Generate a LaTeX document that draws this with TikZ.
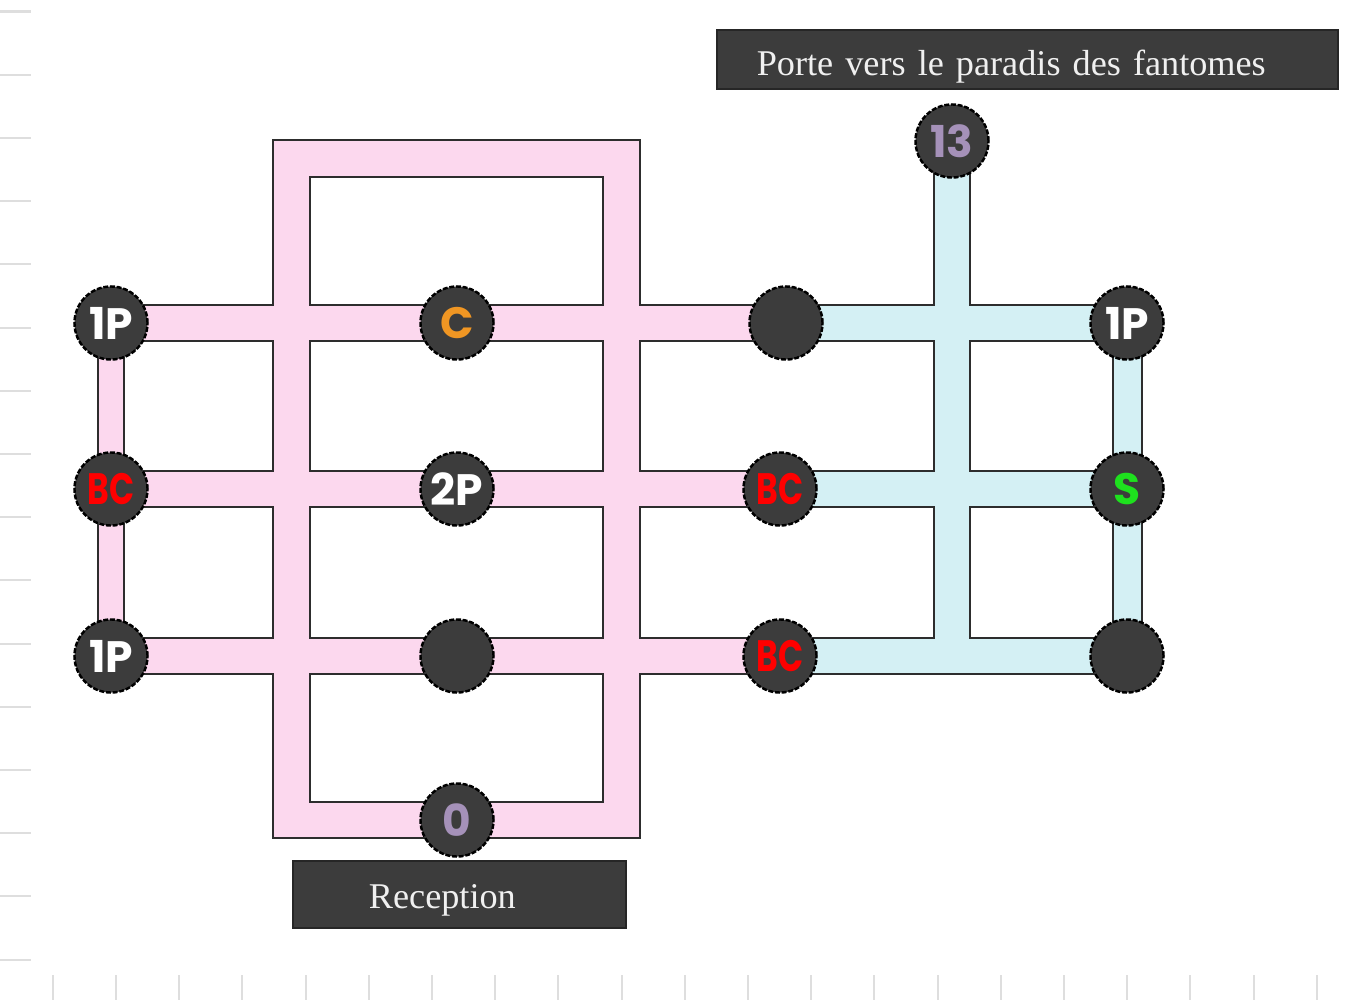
\documentclass[tikz,border=0pt]{standalone}
\usepackage{fontspec}
\setmainfont{Liberation Serif}
\newfontfamily\marqueur{Poppins}
\usetikzlibrary{backgrounds}
\definecolor{fond}{RGB}{60,60,60}
\definecolor{rosec}{RGB}{252,216,238}
\definecolor{bleuc}{RGB}{212,240,244}
\definecolor{trait}{RGB}{45,45,45}
\definecolor{orangec}{RGB}{240,150,35}
\definecolor{vertc}{RGB}{30,225,30}
\definecolor{mauve}{RGB}{165,145,185}
\definecolor{graduation}{RGB}{222,222,222}
\begin{document}
\begin{tikzpicture}[x=0.01cm,y=-0.01cm,line join=miter]
	\tikzset{salle/.style={circle,fill=fond,draw=black,line width=0.7pt,dash pattern=on 1.4pt off 0.5pt,minimum size=0.73cm,inner sep=0pt,font=\marqueur\bfseries\fontsize{12.5}{13}\selectfont},
	bord/.style={draw=trait,line width=0.38cm},
	rose/.style={draw=rosec,line width=0.34cm},
	bleu/.style={draw=bleuc,line width=0.33cm},
	panneau/.style={fill=fond,draw=black!85,line width=0.6pt,text=white!94!black,font=\fontsize{10.3}{12}\selectfont,align=left,inner ysep=0pt}}
	\def\bc{\scalebox{0.75}[1]{BC}}
	\useasboundingbox(0,0)rectangle(1366,1000);
	\foreach \k in {0,...,15} \draw[graduation,line width=0.02cm](0,{11.5+63.2*\k})--++(31,0);
	\foreach \k in {0,...,20} \draw[graduation,line width=0.02cm]({52.7+63.2*\k},975)--++(0,25);
	\node[salle,text=white](g1)at(111,323){1P};
	\node[salle,text=red](g2)at(111,489){\bc};
	\node[salle,text=white](g3)at(111,656){1P};
	\node[salle,text=orangec](m1)at(457,323){C};
	\node[salle,text=white](m2)at(457,489){2P};
	\node[salle](m3)at(457,656){};
	\node[salle,text=mauve](zero)at(457,820){0};
	\node[salle](c1)at(786,323){};
	\node[salle,text=red](c2)at(780,489){\bc};
	\node[salle,text=red](c3)at(780,656){\bc};
	\node[salle,text=mauve](treize)at(952,141){13};
	\node[salle,text=white](d1)at(1127,323){1P};
	\node[salle,text=vertc](d2)at(1127,489){S};
	\node[salle](d3)at(1127,656){};
	\coordinate(b1)at(291.5,158.5);
	\coordinate(b2)at(621.5,158.5);
	\coordinate(b3)at(621.5,820);
	\coordinate(b4)at(291.5,820);
	\begin{scope}[on background layer]
	\draw[bord](zero.center)--(b4)--(b1)--(b2)--(b3)--(zero.center);
	\draw[bord](g1.center)--(c1.center)(g2.center)--(c2.center)(g3.center)--(c3.center);
	\draw[bord](c1.center)--(d1.center)(c2.center)--(d2.center)(c3.center)--(d3.center)(treize.center)--(treize.center|-c3.center);
	\draw[bord,line width=0.28cm](g1.center)--(g3.center);
	\draw[bord,line width=0.31cm](d1.center)--(d3.center);
	\draw[rose](zero.center)--(b4)--(b1)--(b2)--(b3)--(zero.center);
	\draw[rose](g1.center)--(c1.center)(g2.center)--(c2.center)(g3.center)--(c3.center);
	\draw[rose,line width=0.24cm](g1.center)--(g3.center);
	\draw[bleu](c1.center)--(d1.center)(c2.center)--(d2.center)(c3.center)--(d3.center)(treize.center)--(treize.center|-c3.center);
	\draw[bleu,line width=0.27cm](d1.center)--(d3.center);
	\end{scope}
	\node[panneau,text width=5.41cm,inner xsep=0.4cm,minimum height=0.59cm](porte)at(1027.5,59.5){\raisebox{-0.07cm}[\height][\depth]{Porte vers le paradis des fantomes}};
	\node[panneau,text width=1.81cm,inner xsep=0.76cm,minimum height=0.67cm](recep)at(459.5,894.5){\raisebox{-0.06cm}[\height][\depth]{Reception}};
\end{tikzpicture}
\end{document}
